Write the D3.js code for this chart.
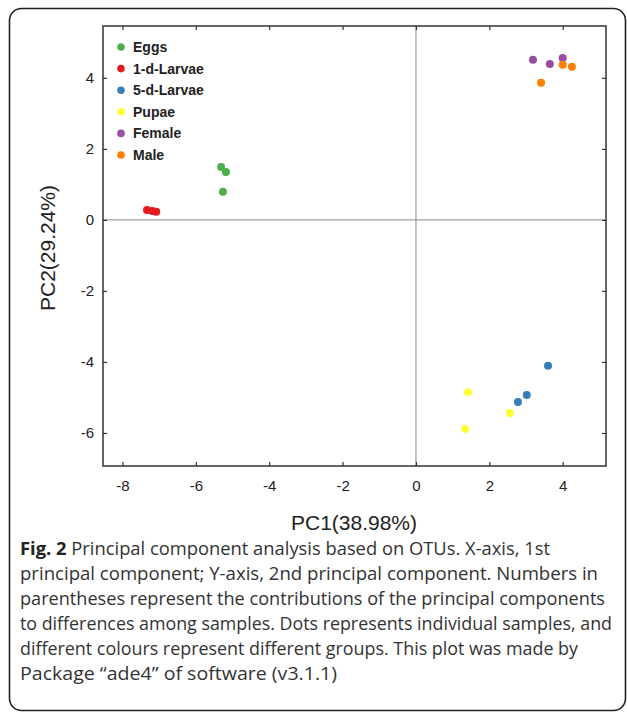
<!DOCTYPE html>
<html><head><meta charset="utf-8">
<script src="https://cdn.jsdelivr.net/npm/d3@7"></script>
<style>body{margin:0;background:#fff;}svg{display:block;}</style>
</head><body>
<svg id="c" width="627" height="713"></svg>
<script>
const groups = ["Eggs","1-d-Larvae","5-d-Larvae","Pupae","Female","Male"];
const colors = ["#4daf4a","#e41a1c","#377eb8","#ffff33","#984ea3","#ff7f00"];
const pc1 = [-5.31,-5.18,-5.26, -7.33,-7.19,-7.08, 3.60,3.02,2.78, 1.42,1.34,2.56, 3.19,3.65,4.00, 4.00,4.25,3.41];
const pc2 = [1.49,1.35,0.79, 0.28,0.25,0.23, -4.11,-4.93,-5.13, -4.85,-5.89,-5.44, 4.51,4.39,4.56, 4.37,4.31,3.86];
const grp = [0,0,0, 1,1,1, 2,2,2, 3,3,3, 4,4,4, 5,5,5];
const xTicks = [-8,-6,-4,-2,0,2,4];
const yTicks = [-6,-4,-2,0,2,4];
const xTitle = "PC1(38.98%)";
const yTitle = "PC2(29.24%)";
const caption = [
  ["Fig. 2", " Principal component analysis based on OTUs. X-axis, 1st"],
  ["", "principal component; Y-axis, 2nd principal component. Numbers in"],
  ["", "parentheses represent the contributions of the principal components"],
  ["", "to differences among samples. Dots represents individual samples, and"],
  ["", "different colours represent different groups. This plot was made by"],
  ["", "Package \u201cade4\u201d of software (v3.1.1)"]
];
const capEnds = [550, 598, 605, 612, 578, 337];

const svg = d3.select("#c");
const L=103, R=606, T=26, B=466;
const x = d3.scaleLinear().domain([-8.53,5.18]).range([L,R]);
const y = d3.scaleLinear().domain([-6.93,5.46]).range([B,T]);
const fmt = d => String(d);

// outer rounded border
svg.append("rect").attr("x",9.5).attr("y",8.5).attr("width",616).attr("height",702)
  .attr("rx",12).attr("fill","none").attr("stroke","#222").attr("stroke-width",1.6);

// zero lines
svg.append("line").attr("x1",x(0)).attr("x2",x(0)).attr("y1",T).attr("y2",B).attr("stroke","#8a8a8a").attr("stroke-width",1);
svg.append("line").attr("x1",L).attr("x2",R).attr("y1",y(0)).attr("y2",y(0)).attr("stroke","#8a8a8a").attr("stroke-width",1);

const font = "'Liberation Sans', Arial, Helvetica, sans-serif";
const ax = (g)=>{g.selectAll(".domain").remove(); g.selectAll("line").attr("stroke","#333").attr("stroke-width",1.2);};
svg.append("g").attr("transform",`translate(0,${B})`)
  .call(d3.axisBottom(x).tickValues(xTicks).tickSize(-4).tickPadding(14).tickFormat(fmt))
  .call(ax).selectAll("text").attr("font-family",font).attr("font-size",15).attr("fill","#222");
svg.append("g").attr("transform",`translate(0,${T})`)
  .call(d3.axisTop(x).tickValues(xTicks).tickSize(-4).tickFormat(""))
  .call(ax);
svg.append("g").attr("transform",`translate(${L},0)`)
  .call(d3.axisLeft(y).tickValues(yTicks).tickSize(-4).tickPadding(9).tickFormat(fmt))
  .call(ax).selectAll("text").attr("font-family",font).attr("font-size",15).attr("fill","#222");
svg.append("g").attr("transform",`translate(${R},0)`)
  .call(d3.axisRight(y).tickValues(yTicks).tickSize(-4).tickFormat(""))
  .call(ax);

// frame
svg.append("rect").attr("x",L).attr("y",T).attr("width",R-L).attr("height",B-T)
  .attr("fill","none").attr("stroke","#333").attr("stroke-width",1.5);

// points
svg.append("g").selectAll("circle").data(pc1).join("circle")
  .attr("cx",(d)=>x(d)).attr("cy",(d,i)=>y(pc2[i])).attr("r",4)
  .attr("fill",(d,i)=>colors[grp[i]]);

// legend
const lg = svg.append("g").attr("transform","translate(121,47)");
groups.forEach((g,i)=>{
  lg.append("circle").attr("cx",0).attr("cy",i*21.6).attr("r",3.8).attr("fill",colors[i]);
  lg.append("text").attr("x",12).attr("y",i*21.6+5).text(g)
    .attr("font-family",font).attr("font-weight","bold").attr("font-size",14).attr("fill","#222");
});

// axis titles
svg.append("text").attr("x",354).attr("y",530).attr("text-anchor","middle").text(xTitle)
  .attr("font-family",font).attr("font-size",21).attr("fill","#222");
svg.append("text").attr("transform","translate(55,248) rotate(-90)").attr("text-anchor","middle").text(yTitle)
  .attr("font-family",font).attr("font-size",21).attr("fill","#222");

// caption
const cf = "'Open Sans', 'Noto Sans', sans-serif";
caption.forEach((c,i)=>{
  const t = svg.append("text").attr("x",20).attr("y",555+i*25)
    .attr("font-family",cf).attr("font-size",18).attr("fill","#333")
    .attr("textLength",capEnds[i]-20).attr("lengthAdjust","spacingAndGlyphs");
  if(c[0]) t.append("tspan").attr("font-weight","bold").attr("fill","#222").text(c[0]);
  t.append("tspan").text(c[1]);
});
</script>
</body></html>
